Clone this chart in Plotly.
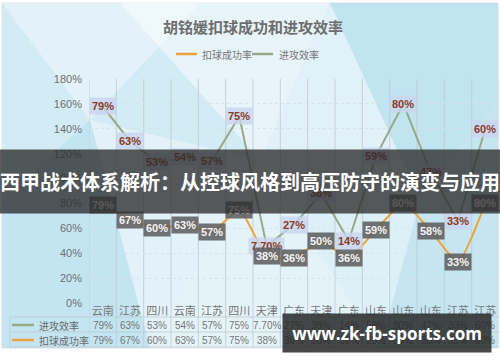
import plotly.graph_objects as go
import numpy as np

categories = ["云南", "江苏", "四川", "云南", "江苏", "四川", "天津", "广东", "天津", "广东", "山东", "山东", "山东", "江苏", "江苏"]
attack_eff = [79, 63, 53, 54, 57, 75, 7.7, 27, 38, 14, 59, 80, 47, 33, 60]
spike_succ = [79, 67, 60, 63, 57, 75, 38, 36, 50, 36, 59, 80, 58, 33, 80]
attack_labels = ["79%", "63%", "53%", "54%", "57%", "75%", "7.70%", "27%", "38%", "14%", "59%", "80%", "47%", "33%", "60%"]
spike_labels = ["79%", "67%", "60%", "63%", "57%", "75%", "38%", "36%", "50%", "36%", "59%", "80%", "58%", "33%", "80%"]
y_ticks = [0, 20, 40, 60, 80, 100, 120, 140, 160, 180]

W, H = 500, 362
L, R, T, B = 89, 499, 79, 303
def px(x): return (x - L) / (R - L)
def py(y): return (B - y) / (B - T)

ORANGE = "#f0a23a"
GREEN = "#98a985"
CJK = "Noto Sans CJK SC"

xs = list(range(len(categories)))
fig = go.Figure()
fig.add_trace(go.Scatter(x=xs, y=spike_succ, mode="lines", stackgroup="s", fill="none",
                         line=dict(color=ORANGE, width=2, shape="spline", smoothing=0.5),
                         name="扣球成功率", showlegend=False))
fig.add_trace(go.Scatter(x=xs, y=attack_eff, mode="lines", stackgroup="s", fill="none",
                         line=dict(color=GREEN, width=2),
                         name="进攻效率", showlegend=False))

shapes = []
shapes.append(dict(type="rect", xref="paper", yref="paper", x0=px(2), x1=px(498), y0=py(348), y1=py(3),
                   fillcolor="#d3ebf4", line=dict(color="#e0e6ea", width=1), layer="below"))
polys = [
    ([(2, 3), (200, 3), (90, 120)], "rgba(255,255,255,0.35)"),
    ([(120, 3), (330, 3), (260, 160)], "rgba(255,255,255,0.45)"),
    ([(90, 120), (260, 160), (150, 348)], "rgba(255,255,255,0.35)"),
    ([(260, 160), (330, 3), (420, 200)], "rgba(255,255,255,0.30)"),
    ([(150, 348), (260, 160), (380, 348)], "rgba(255,255,255,0.40)"),
    ([(260, 160), (420, 200), (380, 348)], "rgba(255,255,255,0.25)"),
    ([(2, 200), (90, 120), (150, 348), (2, 348)], "rgba(120,200,225,0.18)"),
    ([(420, 200), (498, 100), (498, 348), (380, 348)], "rgba(120,200,225,0.15)"),
    ([(330, 3), (498, 3), (498, 100), (420, 200)], "rgba(120,200,225,0.20)"),
]
for pts, col in polys:
    path = "M " + " L ".join(f"{px(x)},{py(y)}" for x, y in pts) + " Z"
    shapes.append(dict(type="path", xref="paper", yref="paper", path=path, fillcolor=col,
                       line=dict(width=0), layer="below"))
for i in range(len(categories) + 1):
    shapes.append(dict(type="line", xref="x", yref="paper", x0=i - 0.5, x1=i - 0.5, y0=py(347), y1=1,
                       line=dict(color="rgba(190,200,210,0.8)", width=1), layer="below"))
for yy in [317, 332, 347]:
    shapes.append(dict(type="line", xref="paper", yref="paper", x0=px(10), x1=px(499), y0=py(yy), y1=py(yy),
                       line=dict(color="rgba(190,200,210,0.8)", width=1), layer="below"))
shapes.append(dict(type="line", xref="paper", yref="paper", x0=px(10), x1=px(10), y0=py(347), y1=py(317),
                   line=dict(color="rgba(190,200,210,0.8)", width=1), layer="below"))
shapes.append(dict(type="line", xref="paper", yref="paper", x0=px(12), x1=px(34), y0=py(325), y1=py(325),
                   line=dict(color=GREEN, width=2.5)))
shapes.append(dict(type="line", xref="paper", yref="paper", x0=px(12), x1=px(34), y0=py(340), y1=py(340),
                   line=dict(color=ORANGE, width=2.5)))
shapes.append(dict(type="line", xref="paper", yref="paper", x0=px(176), x1=px(197), y0=py(54), y1=py(54),
                   line=dict(color=ORANGE, width=2.5)))
shapes.append(dict(type="line", xref="paper", yref="paper", x0=px(252), x1=px(273), y0=py(54), y1=py(54),
                   line=dict(color=GREEN, width=2.5)))

ann = []
def A(**kw):
    d = dict(showarrow=False, xanchor="center", yanchor="middle")
    d.update(kw)
    ann.append(d)

A(text="<b>胡铭媛扣球成功和进攻效率</b>", xref="paper", yref="paper", x=px(253), y=py(27),
  font=dict(family=CJK, size=15, color="#6e6e6e"))
A(text="扣球成功率", xref="paper", yref="paper", x=px(200), y=py(54), xanchor="left",
  font=dict(family=CJK, size=10, color="#777777"))
A(text="进攻效率", xref="paper", yref="paper", x=px(277), y=py(54), xanchor="left",
  font=dict(family=CJK, size=10, color="#777777"))
A(text="进攻效率", xref="paper", yref="paper", x=px(37), y=py(325), xanchor="left",
  font=dict(family=CJK, size=10, color="#6a6a6a"))
A(text="扣球成功率", xref="paper", yref="paper", x=px(37), y=py(340), xanchor="left",
  font=dict(family=CJK, size=10, color="#6a6a6a"))
for i in xs:
    A(text=attack_labels[i], xref="x", yref="paper", x=i, y=py(325),
      font=dict(family="Liberation Sans", size=10, color="#777777"))
    A(text=spike_labels[i], xref="x", yref="paper", x=i, y=py(340),
      font=dict(family="Liberation Sans", size=10, color="#777777"))
stacked = np.array(spike_succ) + np.array(attack_eff)
for i in xs:
    A(text=f"<b>{attack_labels[i]}</b>", xref="x", yref="y", x=i, y=stacked[i],
      bgcolor="rgba(200,212,240,0.8)", borderpad=2,
      font=dict(family="Liberation Sans", size=11, color="#8a3c1e"))
for i in xs:
    A(text=f"<b>{spike_labels[i]}</b>", xref="x", yref="y", x=i, y=spike_succ[i],
      bgcolor="rgba(95,95,95,0.88)", borderpad=2,
      font=dict(family="Liberation Sans", size=11, color="#f4f4f4"))
A(text="<b>西甲战术体系解析：从控球风格到高压防守的演变与应用</b>", xref="paper", yref="paper",
  x=px(250), y=py(181.5), width=500, height=63, bgcolor="rgba(45,45,45,0.78)", borderpad=0,
  font=dict(family=CJK, size=20, color="white"))
A(text="<b>www.zk-fb-sports.com</b>", xref="paper", yref="paper",
  x=px(387), y=py(333), width=208, height=38, bgcolor="rgba(40,40,40,0.85)", borderpad=0,
  font=dict(family="Open Sans", size=17, color="white"))

fig.update_layout(
    width=W, height=H, margin=dict(l=L, r=W - R, t=T, b=H - B),
    paper_bgcolor="white", plot_bgcolor="rgba(0,0,0,0)",
    shapes=shapes, annotations=ann, showlegend=False,
    xaxis=dict(range=[-0.5, 14.5], tickmode="array", tickvals=xs, ticktext=categories,
               showgrid=False, zeroline=False, showline=False, ticks="",
               tickfont=dict(family=CJK, size=11, color="#777777"), fixedrange=True),
    yaxis=dict(range=[0, 180], tickmode="array", tickvals=y_ticks, ticktext=[f"{v}%" for v in y_ticks],
               showgrid=True, gridcolor="rgba(215,225,230,0.9)", griddash="dot", zeroline=False,
               tickfont=dict(family="Liberation Sans", size=11, color="#707070"), ticks="",
               ticklabelstandoff=6, fixedrange=True),
)
fig.write_html("out.html")
